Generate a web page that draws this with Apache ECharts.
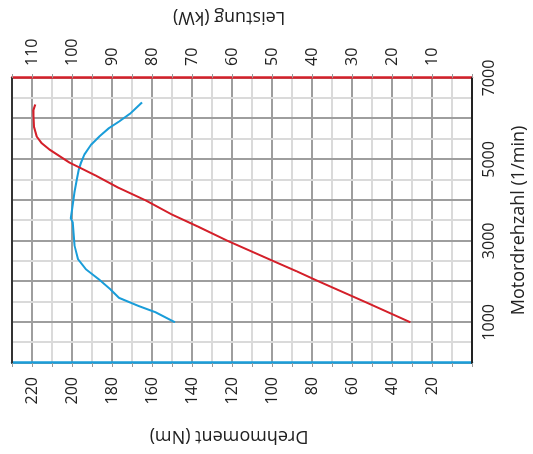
<!DOCTYPE html>
<html>
<head>
<meta charset="utf-8">
<script src="https://cdn.jsdelivr.net/npm/echarts@6/dist/echarts.min.js"></script>
<style>
  html, body { margin: 0; padding: 0; background: #fff; overflow: hidden; }
  /* the chart is drawn upright and then turned a quarter to the left */
  #main { position: absolute; left: 0; top: 0; width: 454px; height: 533px;
          transform-origin: 0 0; transform: translateY(454px) rotate(-90deg); }
</style>
</head>
<body>
<div id="main"></div>
<script>
// tick labels
const rpmTicks = [1000, 3000, 5000, 7000];
const torqueTicks = [20, 40, 60, 80, 100, 120, 140, 160, 180, 200, 220];
const powerTicks = [10, 20, 30, 40, 50, 60, 70, 80, 90, 100, 110];

// Drehmoment (Nm) over Motordrehzahl
const torqueRpm = [1000, 1250, 1400, 1600, 1800, 2050, 2300, 2550, 2900, 3450, 3550, 3800, 4200, 4500, 4750, 4920, 5120, 5360, 5560, 5770, 5930, 6130, 6400];
const torqueNm = [148.5, 158.4, 166.7, 176.5, 180.6, 186.4, 193, 197, 198.8, 199.6, 200.6, 199.9, 198.8, 197.6, 196.6, 195.5, 193.8, 190.5, 186.4, 181.5, 176.5, 170.8, 165];

// Leistung (kW) over Motordrehzahl
const powerRpm = [1000, 1500, 2000, 2250, 2500, 3000, 3350, 3650, 4000, 4300, 4600, 4800, 4920, 5080, 5240, 5400, 5560, 5800, 6200, 6350];
const powerKw = [15.4, 26.7, 38.2, 43.8, 49.6, 61.1, 68.5, 75.1, 81.7, 88.3, 94.0, 98.1, 100.6, 103.1, 105.6, 107.6, 108.8, 109.5, 109.7, 109.2];

const font = "'Open Sans', sans-serif";
const blue = '#1a9dd9';
const red = '#d4202a';
const textCol = '#222';

function pairs(xs, ys) {
  return xs.map((x, i) => [x, ys[i]]);
}

const option = {
  animation: false,
  backgroundColor: '#fff',
  grid: { left: 91, right: 74, top: 12, bottom: 55 },
  xAxis: [
    {
      type: 'value',
      min: 0,
      max: 7000,
      interval: 500,
      name: 'Motordrehzahl (1/min)',
      nameLocation: 'middle',
      nameGap: 38,
      nameTextStyle: { fontFamily: font, fontSize: 18, color: textCol },
      axisLine: { onZero: false, lineStyle: { color: '#222', width: 2 } },
      axisTick: { show: false },
      axisLabel: {
        margin: 9,
        fontFamily: font,
        fontSize: 16,
        color: textCol,
        formatter: v => (rpmTicks.includes(v) ? String(v) : '')
      },
      splitLine: {
        show: true,
        showMinLine: true,
        showMaxLine: true,
        lineStyle: { color: ['#9e9e9e', '#dadada'], width: 2 }
      }
    },
    {
      type: 'value',
      position: 'top',
      min: 0,
      max: 7000,
      axisLine: { show: true, onZero: false, lineStyle: { color: '#333', width: 2 } },
      axisTick: { show: false },
      axisLabel: { show: false },
      splitLine: { show: false }
    }
  ],
  yAxis: [
    {
      type: 'value',
      position: 'left',
      min: 0,
      max: 230,
      interval: 10,
      name: 'Drehmoment (Nm)',
      nameLocation: 'middle',
      nameGap: 64,
      nameTextStyle: { fontFamily: font, fontSize: 18, color: textCol, padding: [0, 0, 0, 26] },
      axisLine: { show: true, onZero: false, lineStyle: { color: blue, width: 2.5 } },
      axisTick: { show: true, length: 4, lineStyle: { color: '#999' } },
      axisLabel: {
        margin: 14,
        fontFamily: font,
        fontSize: 16,
        color: textCol,
        formatter: v => (torqueTicks.includes(v) ? String(v) : '')
      },
      splitLine: {
        show: true,
        showMinLine: true,
        showMaxLine: false,
        lineStyle: { color: ['#9e9e9e', '#dadada'], width: 2 }
      }
    },
    {
      type: 'value',
      position: 'right',
      min: 0,
      max: 115,
      interval: 5,
      name: 'Leistung (kW)',
      nameLocation: 'middle',
      nameGap: 52,
      nameTextStyle: { fontFamily: font, fontSize: 18, color: textCol, padding: [0, 0, 0, 26] },
      axisLine: { show: true, onZero: false, lineStyle: { color: red, width: 2.5 } },
      axisTick: { show: true, length: 4, lineStyle: { color: '#999' } },
      axisLabel: {
        margin: 12,
        fontFamily: font,
        fontSize: 16,
        color: textCol,
        formatter: v => (powerTicks.includes(v) ? String(v) : '')
      },
      splitLine: { show: false }
    }
  ],
  series: [
    {
      name: 'Drehmoment',
      type: 'line',
      yAxisIndex: 0,
      showSymbol: false,
      lineStyle: { color: blue, width: 2 },
      itemStyle: { color: blue },
      data: pairs(torqueRpm, torqueNm)
    },
    {
      name: 'Leistung',
      type: 'line',
      yAxisIndex: 1,
      showSymbol: false,
      lineStyle: { color: red, width: 2 },
      itemStyle: { color: red },
      data: pairs(powerRpm, powerKw)
    }
  ]
};

const myChart = echarts.init(document.getElementById('main'));
myChart.setOption(option);
</script>
</body>
</html>
